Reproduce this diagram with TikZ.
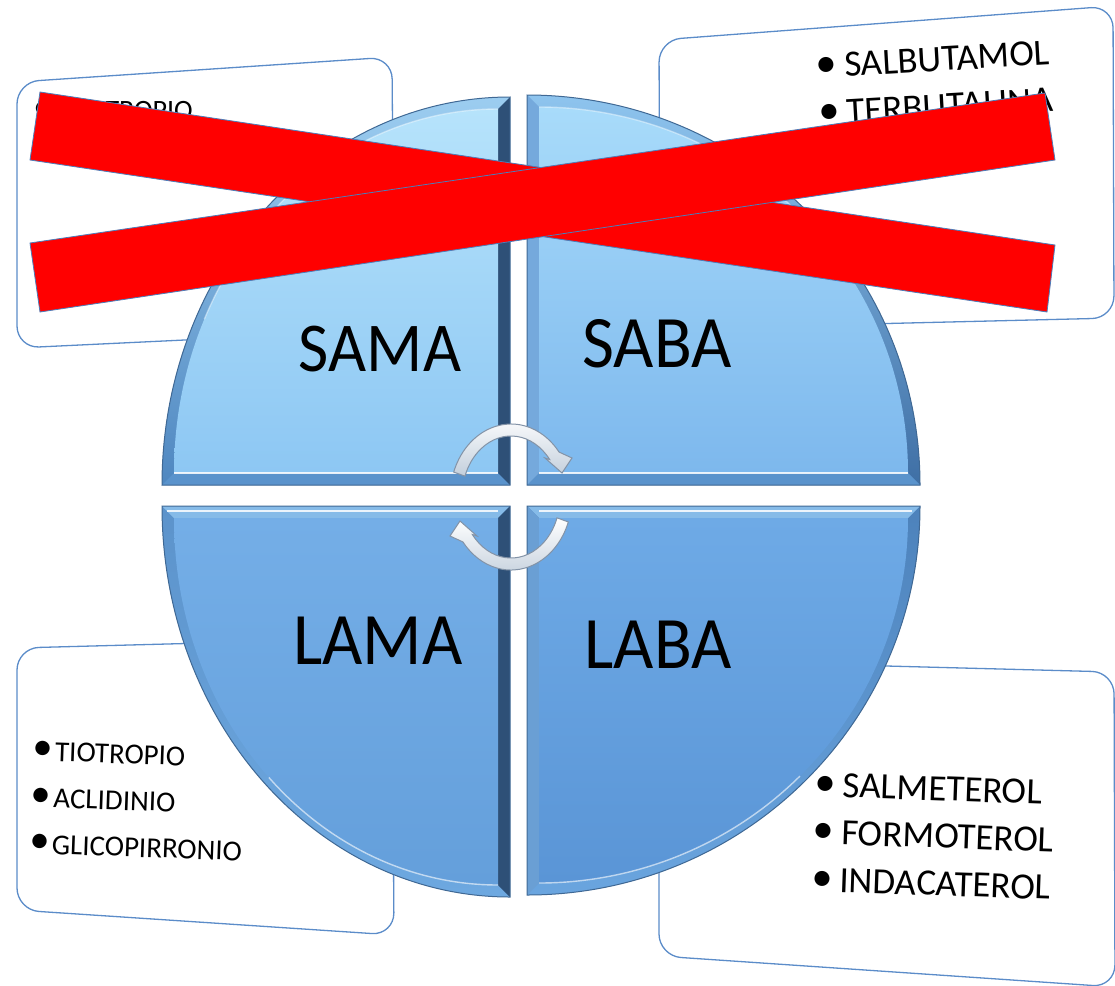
\documentclass[tikz,border=0pt]{standalone}
\usepackage{fontspec}
\setmainfont{Carlito}
\usetikzlibrary{calc}

\definecolor{boxblue}{HTML}{5B8CC9}
\definecolor{xred}{HTML}{FF0000}
\definecolor{xedge}{HTML}{4A7EBB}
\definecolor{arrowedge}{HTML}{8393A7}
\definecolor{arrowshade}{HTML}{C3CFDC}
\definecolor{qoutline}{HTML}{3F6894}
\definecolor{darkfacet}{HTML}{2E5077}

\newcommand\listbullet[1][1.15]{\makebox[0.77em][l]{\raisebox{0.02em}{\scalebox{#1}{\textbullet}}}}

% One bevelled quarter disc: inner corner (#1,#2), direction signs #3,#4,
% radii #5,#6, arc from angle #7 to #8.
\newcommand\quadrant[8]{%
  \def\qb{12}%
  \pgfmathsetmacro\qrx{#5-2*\qb}%
  \pgfmathsetmacro\qry{#6-2*\qb}%
  \path[qarc] (#1,#2) -- ({#1+#3*#5},#2) arc[start angle=#7,end angle=#8,x radius=#5,y radius=#6] -- cycle;
  \path[qhor] (#1,#2) -- ({#1+#3*#5},#2) -- ({#1+#3*(#5-\qb)},{#2+#4*\qb}) -- ({#1+#3*\qb},{#2+#4*\qb}) -- cycle;
  \path[qvert] (#1,#2) -- (#1,{#2+#4*#6}) -- ({#1+#3*\qb},{#2+#4*(#6-\qb)}) -- ({#1+#3*\qb},{#2+#4*\qb}) -- cycle;
  \path[qface] ({#1+#3*\qb},{#2+#4*\qb}) -- ({#1+#3*(#5-\qb)},{#2+#4*\qb}) arc[start angle=#7,end angle=#8,x radius=\qrx,y radius=\qry] -- cycle;
  \path[qline] (#1,#2) -- ({#1+#3*#5},#2) arc[start angle=#7,end angle=#8,x radius=#5,y radius=#6] -- cycle;
}

\tikzset{
  boxframe/.style={draw=boxblue, line width=1.3pt, fill=white, rounded corners=22pt},
  crossbar/.style={fill=xred, draw=xedge, line width=0.8pt},
  quadlabel/.style={inner sep=0pt, text=black},
  listtext/.style={align=left, inner sep=0pt, anchor=north west, text=black},
  cycarrow/.style={draw=arrowedge, line width=1pt, top color=white, bottom color=arrowshade},
  qline/.style={draw=qoutline, line width=1pt},
  crease/.style={draw=white, line width=1.4pt, opacity=0.85},
}

\begin{document}
\begin{tikzpicture}[x=1pt, y=-1pt]
\useasboundingbox (0,0) rectangle (1115,985);

% ---- side panels ----
\path[boxframe] (17,82) -- (392,57) -- (394,330) -- (17,348) -- cycle;
\path[boxframe] (659,40) -- (1113,6) -- (1114,318) -- (660,329) -- cycle;
\path[boxframe] (17,648) -- (392,638) -- (394,935) -- (17,910) -- cycle;
\path[boxframe] (659,660) -- (1114,672) -- (1115,987) -- (659,956) -- cycle;

\node[listtext, font=\fontsize{28}{40}\selectfont] (samalist) at (33,101)
  {\listbullet[1.4]IPRATROPIO};
\node[listtext, rotate=3.3, font=\fontsize{37}{47}\selectfont] (sabalist) at (815,54)
  {\listbullet SALBUTAMOL\\\listbullet TERBUTALINA};
\node[listtext, rotate=-2, font=\fontsize{29}{46.5}\selectfont] (lamalist) at (33,741)
  {\listbullet[1.4]TIOTROPIO\\\listbullet[1.4]ACLIDINIO\\\listbullet[1.4]GLICOPIRRONIO};
\node[listtext, rotate=-2, font=\fontsize{37}{47.5}\selectfont] (labalist) at (815,772)
  {\listbullet SALMETEROL\\\listbullet FORMOTEROL\\\listbullet INDACATEROL};

% ---- the four quarter discs ----
\tikzset{
  qarc/.style={top color={rgb,255:red,156;green,205;blue,240}, bottom color={rgb,255:red,79;green,135;blue,192}},
  qhor/.style={fill={rgb,255:red,90;green,147;blue,204}},
  qvert/.style={fill=darkfacet},
  qface/.style={top color={rgb,255:red,182;green,227;blue,251}, bottom color={rgb,255:red,141;green,199;blue,243}}}
\quadrant{510}{485}{-1}{-1}{348}{388}{180}{270}

\tikzset{
  qarc/.style={top color={rgb,255:red,142;green,196;blue,238}, bottom color={rgb,255:red,63;green,111;blue,165}},
  qhor/.style={fill={rgb,255:red,90;green,147;blue,204}},
  qvert/.style={fill={rgb,255:red,117;green,169;blue,220}},
  qface/.style={top color={rgb,255:red,168;green,219;blue,250}, bottom color={rgb,255:red,125;green,184;blue,237}}}
\quadrant{527}{485}{1}{-1}{393}{390}{0}{-90}

\tikzset{
  qarc/.style={top color={rgb,255:red,92;green,147;blue,203}, bottom color={rgb,255:red,109;green,168;blue,224}},
  qhor/.style={fill={rgb,255:red,134;green,187;blue,232}},
  qvert/.style={fill=darkfacet},
  qface/.style={top color={rgb,255:red,116;green,174;blue,231}, bottom color={rgb,255:red,100;green,159;blue,219}}}
\quadrant{510}{506}{-1}{1}{348}{391}{180}{90}

\tikzset{
  qarc/.style={top color={rgb,255:red,77;green,130;blue,187}, bottom color={rgb,255:red,106;green,165;blue,223}},
  qhor/.style={fill={rgb,255:red,134;green,187;blue,232}},
  qvert/.style={fill={rgb,255:red,106;green,159;blue,212}},
  qface/.style={top color={rgb,255:red,110;green,170;blue,230}, bottom color={rgb,255:red,90;green,149;blue,214}}}
\quadrant{527}{506}{1}{1}{393}{389}{0}{90}

% bevel highlights
\draw[crease] (498,473) -- (174,473);
\draw[crease] (539,473) -- (908,473);
\draw[crease] (498,511) -- (167,511);
\draw[crease] (539,511) -- (912,511);
\draw[crease, opacity=0.6] (498,518) ++(135:324 and 367) arc[start angle=135, end angle=90, x radius=324, y radius=367];
\draw[crease, opacity=0.6] (539,518) ++(90:369 and 365) arc[start angle=90, end angle=45, x radius=369, y radius=365];
\draw[crease, opacity=0.4] (498,473) ++(205:324 and 364) arc[start angle=205, end angle=270, x radius=324, y radius=364];
\draw[crease, opacity=0.4] (539,473) ++(270:369 and 366) arc[start angle=270, end angle=320, x radius=369, y radius=366];

% ---- labels ----
\node[quadlabel, font=\fontsize{70}{70}\selectfont] (sama) at (380,349.5) {\scalebox{0.94}[1]{SAMA}};
\node[quadlabel, font=\fontsize{74}{74}\selectfont] (saba) at (657,344) {\scalebox{0.94}[1]{SABA}};
\node[quadlabel, font=\fontsize{74}{74}\selectfont] (lama) at (378,641) {\scalebox{0.94}[1]{LAMA}};
\node[quadlabel, font=\fontsize{74}{74}\selectfont] (laba) at (658,645) {\scalebox{0.94}[1]{LABA}};

% ---- cycle arrows ----
\coordinate (cyc) at (511,497);
\begin{scope}[shift={(cyc)}]
  \path[cycarrow] (200:61 and 73) arc[start angle=200, end angle=322, x radius=61, y radius=73]
    -- (61,-39) -- (51,-24) -- (34,-39) -- (322:49 and 61)
    arc[start angle=322, end angle=200, x radius=49, y radius=61] -- cycle;
\end{scope}
\begin{scope}[shift={(cyc)}, rotate=180]
  \path[cycarrow] (200:61 and 73) arc[start angle=200, end angle=322, x radius=61, y radius=73]
    -- (61,-39) -- (51,-24) -- (34,-39) -- (322:49 and 61)
    arc[start angle=322, end angle=200, x radius=49, y radius=61] -- cycle;
\end{scope}

% ---- red cross ----
\path[crossbar] (40,92) -- (1055,245) -- (1047,312) -- (30,160) -- cycle;
\path[crossbar] (30,243) -- (1045,93) -- (1055,160) -- (40,312) -- cycle;
\end{tikzpicture}
\end{document}
